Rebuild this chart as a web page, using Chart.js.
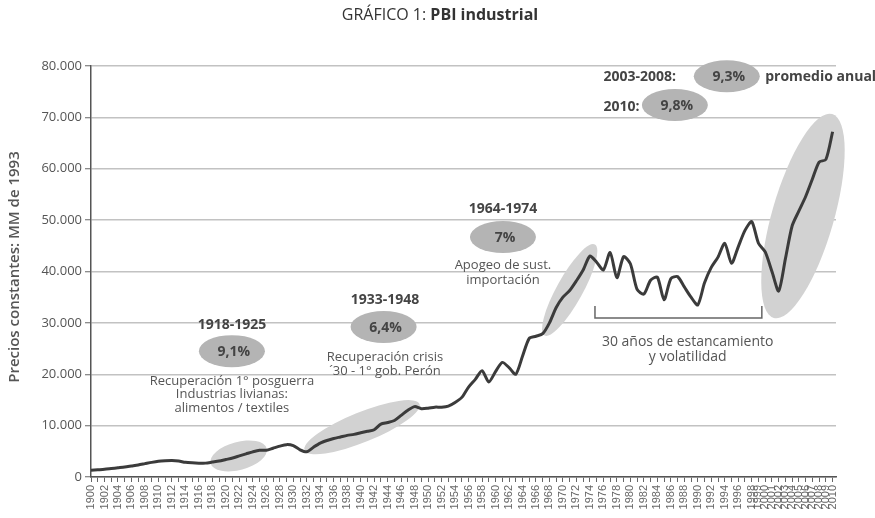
<!DOCTYPE html>
<html>
<head>
<meta charset="utf-8">
<script src="https://cdn.jsdelivr.net/npm/chart.js@4"></script>
<style>
  html, body { margin: 0; padding: 0; background: #fff; }
  #wrap { width: 875px; height: 518px; }
</style>
</head>
<body>
<div id="wrap"><canvas id="myChart" width="875" height="518"></canvas></div>
<script>
// años 1900-2010
const years = Array.from({ length: 111 }, (_, i) => 1900 + i);

// PBI industrial, precios constantes (MM de 1993)
const pbi = [
    1300, 1400, 1500, 1650, 1800, 1950, 2150, 2350, 2600, 2850,      // 1900-1909
    3050, 3150, 3200, 3100, 2850, 2750, 2700, 2700, 2900, 3100,      // 1910-1919
    3400, 3700, 4100, 4500, 4900, 5200, 5200, 5600, 6000, 6300,      // 1920-1929
    6100, 5300, 4900, 5800, 6600, 7100, 7500, 7800, 8100, 8300,      // 1930-1939
    8600, 8900, 9200, 10300, 10600, 11000, 12000, 13000, 13700, 13300, // 1940-1949
    13400, 13600, 13600, 13800, 14500, 15500, 17500, 19000, 20700, 18500, // 1950-1959
    20500, 22300, 21300, 20000, 23500, 27000, 27400, 27900, 30000, 33000, // 1960-1969
    35000, 36300, 38200, 40300, 43000, 41800, 40300, 43700, 38800, 42900, // 1970-1979
    41500, 36500, 35600, 38300, 38900, 34500, 38600, 39000, 37000, 35000, // 1980-1989
    33500, 37800, 40800, 42800, 45500, 41600, 44800, 48000, 49700, 45500, // 1990-1999
    43800, 40000, 36200, 42500, 48900, 51800, 54600, 58000, 61300, 61800, // 2000-2009
    67200                                                              // 2010
];

const yTicks = [0, 10000, 20000, 30000, 40000, 50000, 60000, 70000, 80000];

// zonas resaltadas sobre la curva: [año, valor, radio x, radio y, giro en grados]
const zonas = [
    [1921.9, 4100, 29, 14, -15],
    [1940.2, 9700, 62, 15, -22],
    [1971.0, 36400, 52, 13, -61],
    [2005.6, 50800, 106, 31, -74]
];

// burbujas de crecimiento: [año, valor, texto]
const tasas = [
    [1920.9, 24500, '9,1%'],
    [1943.4, 29200, '6,4%'],
    [1961.1, 46700, '7%'],
    [1994.3, 78000, '9,3%'],
    [1986.6, 72400, '9,8%']
];

// textos: [año, valor, texto, negrita, alineación, tamaño]
const textos = [
    [1920.9, 29600, '1918-1925', true, 'center', 14],
    [1920.9, 18700, 'Recuperación 1° posguerra', false, 'center', 13],
    [1920.9, 16150, 'Industrias livianas:', false, 'center', 13],
    [1920.9, 13400, 'alimentos / textiles', false, 'center', 13],
    [1943.6, 34450, '1933-1948', true, 'center', 14],
    [1943.6, 23350, 'Recuperación crisis', false, 'center', 13],
    [1943.6, 20600, '´30 - 1° gob. Perón', false, 'center', 13],
    [1961.1, 52150, '1964-1974', true, 'center', 14],
    [1961.1, 41250, 'Apogeo de sust.', false, 'center', 13],
    [1961.1, 38350, 'importación', false, 'center', 13],
    [1988.5, 26300, '30 años de estancamiento', false, 'center', 14],
    [1988.5, 23350, 'y volatilidad', false, 'center', 14],
    [1976.0, 77850, '2003-2008:', true, 'left', 14],
    [2000.0, 77850, 'promedio anual', true, 'left', 14],
    [1976.0, 72000, '2010:', true, 'left', 14]
];

// corchete del estancamiento
const corchete = { desde: 1974.75, hasta: 1999.5, base: 30950, alto: 33300 };

const FONT = "'Open Sans', 'DejaVu Sans', sans-serif";

function fmtMiles(v) {
    return v.toString().replace(/\B(?=(\d{3})+(?!\d))/g, '.');
}

const anotaciones = {
    id: 'anotaciones',
    beforeDatasetsDraw(chart) {
        const c = chart.ctx, x = chart.scales.x, y = chart.scales.y;
        c.save();
        c.fillStyle = '#d2d2d2';
        zonas.forEach(z => {
            c.beginPath();
            c.ellipse(x.getPixelForValue(z[0]), y.getPixelForValue(z[1]), z[2], z[3], z[4] * Math.PI / 180, 0, Math.PI * 2);
            c.fill();
        });
        c.restore();
    },
    afterDraw(chart) {
        const c = chart.ctx, x = chart.scales.x, y = chart.scales.y;
        c.save();

        // titulo
        c.textBaseline = 'middle';
        c.fillStyle = '#333';
        c.font = '16px ' + FONT;
        const t1 = 'GRÁFICO 1: ';
        const w1 = c.measureText(t1).width;
        c.font = 'bold 16px ' + FONT;
        const t2 = 'PBI industrial';
        const w2 = c.measureText(t2).width;
        let tx = 440 - (w1 + w2) / 2;
        c.textAlign = 'left';
        c.font = '16px ' + FONT;
        c.fillText(t1, tx, 15);
        c.font = 'bold 16px ' + FONT;
        c.fillText(t2, tx + w1, 15);

        // titulo eje y
        c.save();
        c.translate(15, 267);
        c.rotate(-Math.PI / 2);
        c.textAlign = 'center';
        c.fillStyle = '#555';
        c.font = '600 15px ' + FONT;
        c.fillText('Precios constantes: MM de 1993', 0, 0);
        c.restore();

        // burbujas
        tasas.forEach(t => {
            const px = x.getPixelForValue(t[0]), py = y.getPixelForValue(t[1]);
            c.fillStyle = '#b4b4b4';
            c.beginPath();
            c.ellipse(px, py, 33, 16, 0, 0, Math.PI * 2);
            c.fill();
            c.fillStyle = '#444';
            c.font = 'bold 14px ' + FONT;
            c.textAlign = 'center';
            c.fillText(t[2], px + 2, py + 1);
        });

        // textos
        textos.forEach(t => {
            c.fillStyle = t[3] ? '#444' : '#555';
            c.font = (t[3] ? 'bold ' : '') + t[5] + 'px ' + FONT;
            c.textAlign = t[4];
            c.fillText(t[2], x.getPixelForValue(t[0]), y.getPixelForValue(t[1]));
        });

        // corchete
        const bx1 = x.getPixelForValue(corchete.desde), bx2 = x.getPixelForValue(corchete.hasta);
        const by = y.getPixelForValue(corchete.base), bt = y.getPixelForValue(corchete.alto);
        c.strokeStyle = '#666';
        c.lineWidth = 1.5;
        c.beginPath();
        c.moveTo(bx1, bt);
        c.lineTo(bx1, by);
        c.lineTo(bx2, by);
        c.lineTo(bx2, bt);
        c.stroke();

        c.restore();
    }
};

const ctx = document.getElementById('myChart').getContext('2d');
const myChart = new Chart(ctx, {
    type: 'line',
    data: {
        datasets: [{
            label: 'PBI industrial',
            data: years.map((yr, i) => ({ x: yr, y: pbi[i] })),
            borderColor: '#3b3b3b',
            borderWidth: 3,
            pointRadius: 0,
            tension: 0.25,
            fill: false
        }]
    },
    options: {
        responsive: false,
        animation: false,
        layout: { padding: { top: 66, right: 39, bottom: 0, left: 0 } },
        plugins: {
            legend: { display: false },
            tooltip: { enabled: false }
        },
        scales: {
            x: {
                type: 'linear',
                min: 1900,
                max: 2010.5,
                afterFit: s => { s.height = 41; },
                grid: {
                    drawOnChartArea: false,
                    drawTicks: true,
                    tickLength: 5,
                    tickColor: '#666',
                    tickWidth: 1
                },
                border: { color: '#555', width: 1.5 },
                ticks: {
                    stepSize: 1,
                    includeBounds: false,
                    autoSkip: false,
                    minRotation: 90,
                    maxRotation: 90,
                    padding: 3,
                    color: '#666',
                    font: { family: "'Liberation Sans', Arial, sans-serif", size: 11 },
                    callback: v => (v >= 1998 || v % 2 === 0) ? String(v) : ''
                }
            },
            y: {
                min: 0,
                max: 80000,
                afterFit: s => { s.width = 91; },
                afterBuildTicks: s => { s.ticks = yTicks.map(v => ({ value: v })); },
                grid: {
                    color: '#c2c2c2',
                    lineWidth: 1.5,
                    tickLength: 6,
                    tickColor: '#666',
                    tickWidth: 1
                },
                border: { color: '#555', width: 1.5 },
                ticks: {
                    padding: 3,
                    color: '#555',
                    font: { family: FONT, size: 13 },
                    callback: v => fmtMiles(v)
                }
            }
        }
    },
    plugins: [anotaciones]
});
</script>
</body>
</html>
